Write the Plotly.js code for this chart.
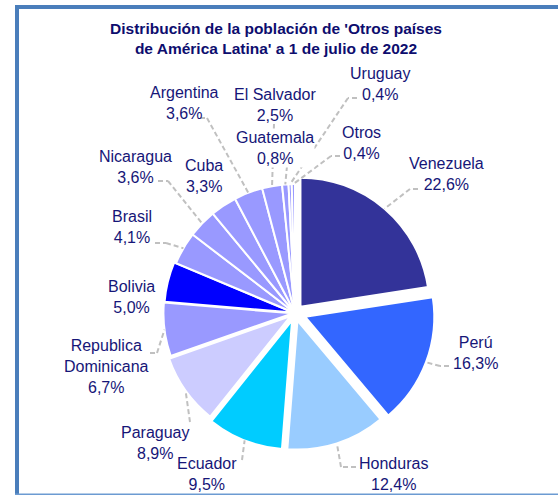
<!DOCTYPE html>
<html><head><meta charset="utf-8">
<script src="https://cdn.plot.ly/plotly-3.0.1.min.js"></script>
<style>html,body{margin:0;padding:0;background:#fff}#chart{width:558px;height:495px}</style>
</head><body><div id="chart"></div>
<script>
// ---- data ----
const countries = ['Venezuela','Perú','Honduras','Ecuador','Paraguay','Republica Dominicana','Bolivia','Brasil','Nicaragua','Cuba','Argentina','El Salvador','Guatemala','Uruguay','Otros'];
const shares = [22.6,16.3,12.4,9.5,8.9,6.7,5.0,4.1,3.6,3.3,3.6,2.5,0.8,0.4,0.4];
const labelNames = ['Venezuela','Perú','Honduras','Ecuador','Paraguay','Republica<br>Dominicana','Bolivia','Brasil','Nicaragua','Cuba','Argentina','El Salvador','Guatemala','Uruguay','Otros'];
const titleText = "Distribución de la población de 'Otros países<br>de América Latina' a 1 de julio de 2022";

// ---- styles / layout ----
const sliceColors = ['#333399','#3366ff','#99ccff','#00ccff','#ccccff','#9999ff','#0000ff','#9999ff','#9999ff','#9999ff','#9999ff','#9999ff','#9999ff','#9999ff','#9999ff'];
const slicePull = [0.065,0.085,0.062,0.062,0.04,0.02,0.015,0,0,0,0,0,0,0,0];
const labelPos = [[446,174],[475,353],[393,474],[207,474],[156,443],[106,366],[131,297],[132,227],[135,167],[204,176],[184,103],[275,105],[275,148],[380,84],[361,143]];
const leaderStart = [[418,189,410],[449,366,440],[356,467,341],[242,460,242],[190,422,190],[150,353,157],null,[155,243,166],[158,181,168],null,[200,118,207],[274,124,274],[287,166,287],[357,98,348],[340,156,331]];
const W = 558, H = 495;
const CX = 295, CY = 313, R = 129;
const TXT = '#161678';
const FONT = 'Liberation Sans, Arial, sans-serif';

const px = x => x / W;
const py = y => 1 - y / H;
const maxPull = Math.max(...slicePull);
const half = R * (1 + maxPull);
const domain = {x: [px(CX - half), px(CX + half)], y: [py(CY + half), py(CY - half)]};

const total = shares.reduce((a, b) => a + b, 0);
const shapes = [];
const dashLine = {color: '#c0c0c0', width: 2, dash: '5px,3px'};
let cum = 0;
shares.forEach((v, i) => {
  const mid = (cum + v / 2) / total * 2 * Math.PI;
  cum += v;
  const s = leaderStart[i];
  if (!s) return;
  const rr = R * (1 + slicePull[i]);
  const ex = CX + rr * Math.sin(mid), ey = CY - rr * Math.cos(mid);
  if (s[0] !== s[2]) shapes.push({type: 'line', xref: 'paper', yref: 'paper', x0: px(s[0]), y0: py(s[1]), x1: px(s[2]), y1: py(s[1]), line: dashLine});
  shapes.push({type: 'line', xref: 'paper', yref: 'paper', x0: px(s[2]), y0: py(s[1]), x1: px(ex), y1: py(ey), line: dashLine});
});
// frame
const frame = '#4a7ebb';
shapes.push({type: 'line', xref: 'paper', yref: 'paper', x0: px(17), x1: px(17), y0: py(5), y1: py(497), line: {color: frame, width: 4}});
shapes.push({type: 'line', xref: 'paper', yref: 'paper', x0: px(15), x1: px(560), y0: py(7), y1: py(7), line: {color: frame, width: 4}});
shapes.push({type: 'line', xref: 'paper', yref: 'paper', x0: px(15), x1: px(560), y0: py(494.5), y1: py(494.5), line: {color: '#6c9bd2', width: 2}});

const annotations = countries.map((c, i) => ({
  xref: 'paper', yref: 'paper', x: px(labelPos[i][0]), y: py(labelPos[i][1]),
  xanchor: 'center', yanchor: 'middle', align: 'center', showarrow: false,
  text: labelNames[i] + '<br>' + shares[i].toFixed(1).replace('.', ',') + '%',
  font: {family: FONT, size: 16, color: TXT},
  bgcolor: c === 'Guatemala' ? '#ffffff' : 'rgba(0,0,0,0)', borderpad: 0
}));

const trace = {
  type: 'pie', labels: countries, values: shares, sort: false, direction: 'clockwise', rotation: 0,
  marker: {colors: sliceColors, line: {color: '#ffffff', width: 2}},
  pull: slicePull, textinfo: 'none', hoverinfo: 'label+percent', showlegend: false, domain: domain
};

const layout = {
  width: W, height: H, margin: {l: 0, r: 0, t: 0, b: 0},
  paper_bgcolor: '#ffffff', plot_bgcolor: '#ffffff', showlegend: false,
  title: {text: titleText, x: px(276), xanchor: 'center', xref: 'container', y: 1 - 34 / H, yanchor: 'middle', yref: 'container',
          font: {family: FONT, size: 15.5, color: '#0d0d6e', weight: 'bold'}},
  shapes: shapes, annotations: annotations
};
Plotly.newPlot('chart', [trace], layout, {displayModeBar: false, staticPlot: true});
</script></body></html>
